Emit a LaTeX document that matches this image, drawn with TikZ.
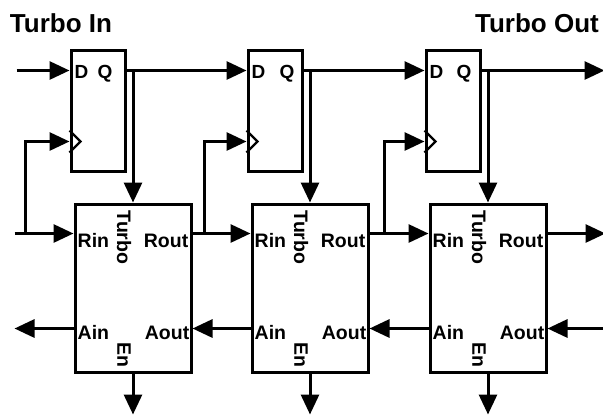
\documentclass[tikz,border=0pt]{standalone}
\usepackage{fontspec}
\setmainfont{Liberation Sans}
\usetikzlibrary{arrows.meta,calc}
\tikzset{
    ff/.style={draw,line width=3pt,minimum width=54pt,minimum height=121pt,inner sep=0pt},
    blk/.style={draw,line width=3pt,minimum width=116pt,minimum height=168pt,inner sep=0pt},
    wire/.style={line width=3pt},
    clk/.style={line width=2.4pt},
    sig/.style={wire,-{Triangle[length=20pt,width=18pt]}},
    lbl/.style={font=\fontsize{19.5}{19.5}\selectfont\bfseries,inner sep=0pt},
    pin/.style={font=\fontsize{19}{19}\selectfont\bfseries,inner sep=0pt},
    title/.style={font=\fontsize{26}{26}\selectfont\bfseries,inner sep=0pt},
}
\begin{document}
\begin{tikzpicture}[x=1pt,y=-1pt]
            \useasboundingbox (0,0) rectangle (603,416);
            \node[title] (tin) at (61,23.5) {Turbo In};
            \node[title] (tout) at (537,23.5) {Turbo Out};
            % flip-flops
            \node[ff] (ff1) at (98,110.5) {};
            \node[ff] (ff2) at (275,110.5) {};
            \node[ff] (ff3) at (453,110.5) {};
            \draw[clk] ($(ff1.north west)+(0,82)$) -- +(11,11) -- +(0,22);
            \draw[clk] ($(ff2.north west)+(0,82)$) -- +(11,11) -- +(0,22);
            \draw[clk] ($(ff3.north west)+(0,82)$) -- +(11,11) -- +(0,22);
            \node[pin,anchor=base west] (ff1d) at ($(ff1.north west)+(5,30)$) {D};
            \node[pin,anchor=base west] (ff1q) at ($(ff1.north west)+(28,30)$) {Q};
            \node[pin,anchor=base west] (ff2d) at ($(ff2.north west)+(5,30)$) {D};
            \node[pin,anchor=base west] (ff2q) at ($(ff2.north west)+(33,30)$) {Q};
            \node[pin,anchor=base west] (ff3d) at ($(ff3.north west)+(5,30)$) {D};
            \node[pin,anchor=base west] (ff3q) at ($(ff3.north west)+(32,30)$) {Q};
            \coordinate (d1) at ($(ff1.north west)+(0,22)$);
            \coordinate (q1) at ($(ff1.north east)+(0,22)$);
            \coordinate (c1) at ($(ff1.north west)+(0,93)$);
            \coordinate (d2) at ($(ff2.north west)+(0,22)$);
            \coordinate (q2) at ($(ff2.north east)+(0,22)$);
            \coordinate (c2) at ($(ff2.north west)+(0,93)$);
            \coordinate (d3) at ($(ff3.north west)+(0,22)$);
            \coordinate (q3) at ($(ff3.north east)+(0,22)$);
            \coordinate (c3) at ($(ff3.north west)+(0,93)$);
            % turbo blocks
            \node[blk] (blk1) at (133,288) {};
            \node[blk] (blk2) at (310,288) {};
            \node[blk] (blk3) at (488,288) {};
            \coordinate (rin1) at ($(blk1.north west)+(0,31)$);
            \coordinate (rout1) at ($(blk1.north east)+(0,31)$);
            \coordinate (ain1) at ($(blk1.north west)+(0,126)$);
            \coordinate (aout1) at ($(blk1.north east)+(0,126)$);
            \coordinate (rin2) at ($(blk2.north west)+(0,31)$);
            \coordinate (rout2) at ($(blk2.north east)+(0,31)$);
            \coordinate (ain2) at ($(blk2.north west)+(0,126)$);
            \coordinate (aout2) at ($(blk2.north east)+(0,126)$);
            \coordinate (rin3) at ($(blk3.north west)+(0,31)$);
            \coordinate (rout3) at ($(blk3.north east)+(0,31)$);
            \coordinate (ain3) at ($(blk3.north west)+(0,126)$);
            \coordinate (aout3) at ($(blk3.north east)+(0,126)$);
            \node[lbl,anchor=base west] (blk1rin) at ($(rin1)+(4,14)$) {Rin};
            \node[lbl,anchor=base east] (blk1rout) at ($(rout1)+(-4,14)$) {Rout};
            \node[lbl,anchor=base west] (blk1ain) at ($(ain1)+(4,11)$) {Ain};
            \node[lbl,anchor=base east] (blk1aout) at ($(aout1)+(-3,11)$) {Aout};
            \node[lbl,rotate=-90] (blk1turbo) at ($(blk1.north)+(-9,35)$) {Turbo};
            \node[lbl,rotate=-90] (blk1en) at ($(blk1.south)+(-9,-19)$) {En};
            \node[lbl,anchor=base west] (blk2rin) at ($(rin2)+(4,14)$) {Rin};
            \node[lbl,anchor=base east] (blk2rout) at ($(rout2)+(-4,14)$) {Rout};
            \node[lbl,anchor=base west] (blk2ain) at ($(ain2)+(4,11)$) {Ain};
            \node[lbl,anchor=base east] (blk2aout) at ($(aout2)+(-3,11)$) {Aout};
            \node[lbl,rotate=-90] (blk2turbo) at ($(blk2.north)+(-9,35)$) {Turbo};
            \node[lbl,rotate=-90] (blk2en) at ($(blk2.south)+(-9,-19)$) {En};
            \node[lbl,anchor=base west] (blk3rin) at ($(rin3)+(4,14)$) {Rin};
            \node[lbl,anchor=base east] (blk3rout) at ($(rout3)+(-4,14)$) {Rout};
            \node[lbl,anchor=base west] (blk3ain) at ($(ain3)+(4,11)$) {Ain};
            \node[lbl,anchor=base east] (blk3aout) at ($(aout3)+(-3,11)$) {Aout};
            \node[lbl,rotate=-90] (blk3turbo) at ($(blk3.north)+(-9,35)$) {Turbo};
            \node[lbl,rotate=-90] (blk3en) at ($(blk3.south)+(-9,-19)$) {En};
            % free ends
            \coordinate (din) at ($(d1)+(-53,0)$);
            \coordinate (qout) at ($(q3)+(123,0)$);
            \coordinate (rfree) at ($(rin1)+(-59,0)$);
            \coordinate (afree) at ($(ain1)+(-59,0)$);
            \coordinate (routfree) at ($(rout3)+(58,0)$);
            \coordinate (aoutfree) at ($(aout3)+(58,0)$);
            % turbo chain
            \draw[sig] (din) -- (d1);
            \draw[sig] (q1) -- (d2);
            \draw[sig] (q2) -- (d3);
            \draw[sig] (q3) -- (qout);
            \draw[sig] (q1 -| blk1.north) -- (blk1.north);
            \draw[sig] (q2 -| blk2.north) -- (blk2.north);
            \draw[sig] (q3 -| blk3.north) -- (blk3.north);
            % request chain and clocks
            \draw[sig] (rfree) -- (rin1);
            \draw[sig] (rout1) -- (rin2);
            \draw[sig] (rout2) -- (rin3);
            \draw[sig] (rout3) -- (routfree);
            \draw[sig] ($(rin1)+(-48,0)$) |- (c1);
            \draw[sig] ($(rout1)+(12,0)$) |- (c2);
            \draw[sig] ($(rout2)+(15,0)$) |- (c3);
            % acknowledge chain
            \draw[sig] (aoutfree) -- (aout3);
            \draw[sig] (ain3) -- (aout2);
            \draw[sig] (ain2) -- (aout1);
            \draw[sig] (ain1) -- (afree);
            % enables
            \draw[sig] (blk1.south) -- ++(0,41);
            \draw[sig] (blk2.south) -- ++(0,41);
            \draw[sig] (blk3.south) -- ++(0,41);
        \end{tikzpicture}
\end{document}
